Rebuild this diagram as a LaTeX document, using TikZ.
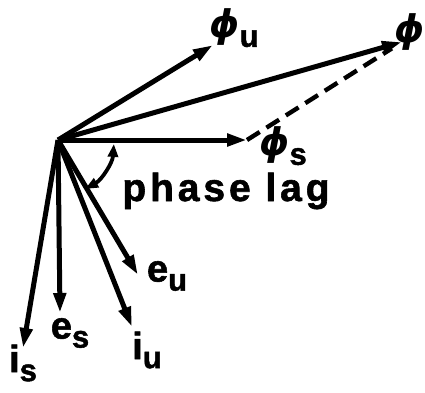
\documentclass[tikz,border=0pt]{standalone}
\usepackage{fontspec}
\setmainfont{Liberation Sans}
\newfontfamily\greekfont{DejaVu Sans}
\usetikzlibrary{arrows.meta,positioning}

\newcommand{\vsub}[1]{\raisebox{-9pt}{\fontsize{31}{31}\selectfont #1}}
\newcommand{\fluxsym}{{\greekfont\bfseries\itshape ϕ}}

\begin{document}
\begin{tikzpicture}[
    x=1pt, y=-1pt,
    phasor/.style={line width=5pt, -{Triangle[length=20pt,width=12pt]}},
    lbl/.style={inner sep=0pt, font=\bfseries\fontsize{38}{38}\selectfont\addfontfeature{FakeBold=1.5}}
]
    \useasboundingbox (0,0) rectangle (425,392);

    % Origin and phasor tips
    \coordinate (O) at (58,140);
    \coordinate (phiu) at (213,45);
    \coordinate (phi) at (402,42);
    \coordinate (phis) at (247,140);
    \coordinate (eu) at (138,275);
    \coordinate (iu) at (132,327);
    \coordinate (es) at (60,313);
    \coordinate (is) at (23,348);

    % Phasors
    \draw[phasor] (O) -- (phiu);
    \draw[phasor] (O) -- (phi);
    \draw[phasor] (O) -- (phis);
    \draw[phasor] (O) -- (eu);
    \draw[phasor] (O) -- (iu);
    \draw[phasor] (O) -- (es);
    \draw[phasor] (O) -- (is);

    % Sum of fluxes
    \draw[line width=4.4pt, dash pattern=on 15pt off 8pt, shorten >=12pt] (phis) -- (phi);

    % Phase lag
    \draw[line width=3.8pt, {Triangle[length=13pt,width=10pt]}-{Triangle[length=13pt,width=10pt]}]
        ([shift={(4:56)}]O) arc[start angle=4, end angle=61, radius=56];

    % Labels
    \node[lbl] (lphiu) at (234,28) {\fluxsym\vsub{u}};
    \node[lbl, anchor=east] (lphi) at (425,32) {\fluxsym};
    \node[lbl] (lphis) at (283,146) {\fluxsym\vsub{s}};
    \node[lbl] (leu) at (167,276) {e\vsub{u}};
    \node[lbl] (liu) at (147,350) {i\vsub{u}};
    \node[lbl] (les) at (70,333) {e\vsub{s}};
    \node[lbl] (lis) at (23,363) {i\vsub{s}};
    \node[lbl, font=\bfseries\fontsize{39}{39}\selectfont\addfontfeature{LetterSpace=10,FakeBold=1.5}] (lag) at (226,191) {phase lag};

\end{tikzpicture}
\end{document}
